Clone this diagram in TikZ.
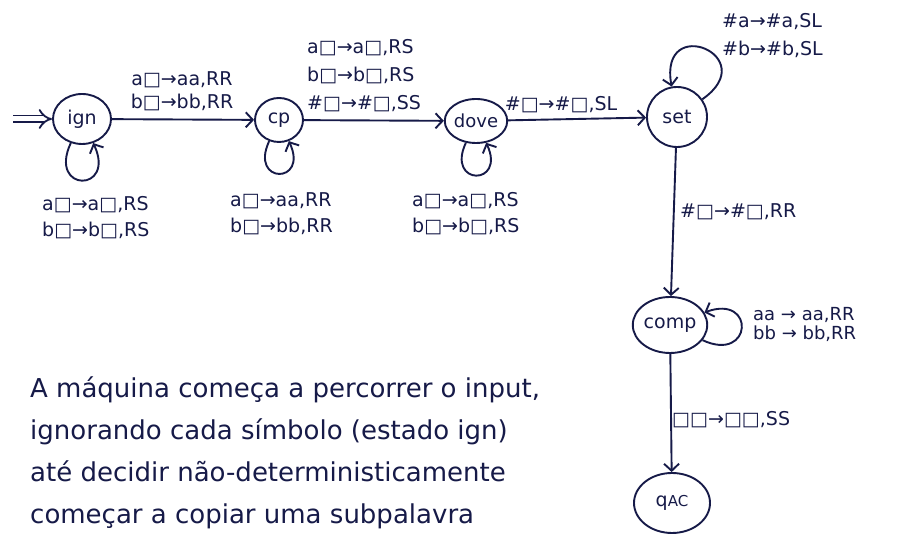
\documentclass[tikz,border=0pt]{standalone}
\usepackage{fontspec}
\setmainfont{DejaVu Sans}
\usetikzlibrary{arrows.meta,shapes.geometric}
\definecolor{ink}{RGB}{22,26,72}
\begin{document}
\begin{tikzpicture}[x=1pt,y=1pt,
  st/.style={ellipse, draw=ink, line width=1.9pt, inner sep=0pt, text=ink, font=\fontsize{19}{20}\selectfont},
  arr/.style={draw=ink, line width=1.9pt, -{Straight Barb[length=7pt,width=15pt]}},
  lbl/.style={text=ink, font=\fontsize{19}{26}\selectfont, align=left, inner sep=0pt, anchor=west},
  note/.style={text=ink, font=\fontsize{26}{42}\selectfont, align=left, inner sep=0pt, anchor=north west}]
\fill[white] (0,0) rectangle (907,534);
\useasboundingbox (0,0) rectangle (907,534);
% states
\node[st, minimum width=58pt, minimum height=50pt] (ign) at (82,415) {ign};
\node[st, minimum width=48pt, minimum height=44pt] (cp) at (279,414) {cp};
\node[st, minimum width=56pt, minimum height=44pt, font=\fontsize{18}{20}\selectfont] (dove) at (476,413) {dove};
\node[st, minimum width=60pt, minimum height=60pt] (set) at (677,417) {set};
\node[st, minimum width=66pt, minimum height=56pt] (comp) at (670,209) {comp};
\node[st, minimum width=76pt, minimum height=60pt] (qac) at (672,31) {q{\fontsize{15}{15}\selectfont AC}};
% initial arrow
\coordinate (init) at (13,415);
\draw[draw=ink, double=white, double distance=5pt, line width=1.8pt, -{Implies}] (init) -- (ign);
% transitions
\draw[arr] (ign) -- (cp);
\draw[arr] (cp) -- (dove);
\draw[arr] (dove) -- (set);
\draw[arr] (set) -- (comp);
\draw[arr] (comp) -- (qac);
% loops
\draw[arr] (ign) to[out=-115,in=-65,min distance=55pt] (ign);
\draw[arr] (cp) to[out=-115,in=-65,min distance=48pt] (cp);
\draw[arr] (dove) to[out=-115,in=-65,min distance=48pt] (dove);
\draw[arr] (set) to[out=35,in=100,min distance=75pt] (set);
\draw[arr] (comp) to[out=-25,in=20,min distance=55pt] (comp);
% labels
\node[lbl, anchor=center, align=center, font=\fontsize{19}{23}\selectfont] (l1) at (182,443) {a□→aa,RR\\b□→bb,RR};
\node[lbl, font=\fontsize{19}{28}\selectfont] (l2) at (307,458) {a□→a□,RS\\b□→b□,RS\\\#□→\#□,SS};
\node[lbl, anchor=center] (l3) at (561,429) {\#□→\#□,SL};
\node[lbl] (l4) at (680,322) {\#□→\#□,RR};
\node[lbl] (l5) at (672,114) {□□→□□,SS};
\node[lbl] (l6) at (42,316) {a□→a□,RS\\b□→b□,RS};
\node[lbl] (l7) at (230,320) {a□→aa,RR\\b□→bb,RR};
\node[lbl] (l8) at (412,320) {a□→a□,RS\\b□→b□,RS};
\node[lbl, font=\fontsize{19}{28}\selectfont] (l9) at (722,498) {\#a→\#a,SL\\\#b→\#b,SL};
\node[lbl, font=\fontsize{18}{19}\selectfont] (l10) at (753,210) {aa → aa,RR\\bb → bb,RR};
% note
\node[note] (txt) at (30,157) {A máquina começa a percorrer o input,\\ignorando cada símbolo (estado ign)\\até decidir não-deterministicamente\\começar a copiar uma subpalavra};
\end{tikzpicture}
\end{document}
